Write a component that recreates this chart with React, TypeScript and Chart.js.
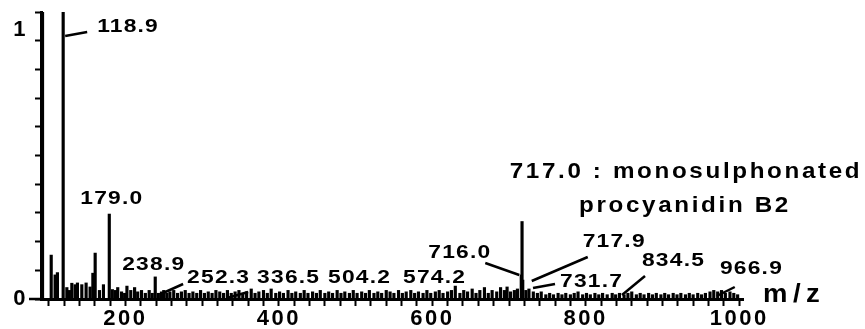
import React, { useEffect, useRef } from 'react';
import { Chart, registerables } from 'chart.js';

Chart.register(...registerables);

// ---- data ----
const mzValues = [
  92, 103.3, 108.4, 111.4, 118.9, 123.7, 127, 130.2, 134.5, 137.5, 143.2, 148.8, 154, 157.6, 160.6, 166.2,
  171.4, 179.0, 183, 187, 190, 195, 199, 202, 207, 212, 216, 221, 226, 231, 235, 238.9, 243, 247, 250,
  254, 258, 263, 268, 273, 278, 283, 288, 293, 298, 303, 308, 313, 318, 323, 328, 333, 338, 343, 348,
  353, 358, 364, 369, 374, 380, 385, 390, 396, 401, 406, 412, 417, 422, 428, 433, 438, 444, 449, 454,
  460, 465, 470, 476, 481, 486, 492, 497, 502, 508, 513, 518, 524, 529, 534, 540, 545, 550, 556, 561,
  566, 572, 577, 582, 588, 593, 598, 604, 609, 614, 620, 625, 630, 636, 641, 646, 652, 657, 662, 668,
  673, 678, 684, 689, 694, 697.5, 702, 707, 711, 716.0, 717.0, 717.9, 722, 726, 731.7, 737, 742, 748,
  753, 758, 764, 769, 774, 780, 785, 790, 796, 801, 806, 812, 817, 822, 828, 834.5, 839, 844, 850, 855,
  860, 866, 871, 876, 882, 887, 892, 898, 903, 908, 914, 919, 924, 930, 935, 940, 946, 951, 956, 962,
  966.9, 972, 977, 982, 988, 993, 998,
];
const intensities = [
  1.0, 0.153, 0.084, 0.092, 1.0, 0.04, 0.03, 0.055, 0.05, 0.056, 0.05, 0.056, 0.042, 0.09, 0.16, 0.03,
  0.05, 0.296, 0.033, 0.03, 0.04, 0.025, 0.02, 0.045, 0.03, 0.04, 0.025, 0.03, 0.02, 0.03, 0.02, 0.077, 0.02, 0.025, 0.03,
  0.02, 0.025, 0.03, 0.02, 0.025, 0.03, 0.02, 0.025, 0.02, 0.03, 0.02, 0.025, 0.02, 0.03, 0.025, 0.02, 0.03, 0.02, 0.025, 0.03,
  0.02, 0.025, 0.035, 0.02, 0.025, 0.03, 0.02, 0.035, 0.02, 0.025, 0.02, 0.03, 0.02, 0.025, 0.02, 0.03, 0.02, 0.025, 0.02, 0.03,
  0.02, 0.025, 0.02, 0.03, 0.02, 0.025, 0.02, 0.03, 0.02, 0.025, 0.02, 0.03, 0.02, 0.025, 0.02, 0.03, 0.025, 0.02, 0.03, 0.02,
  0.025, 0.03, 0.02, 0.025, 0.02, 0.03, 0.02, 0.025, 0.03, 0.02, 0.025, 0.03, 0.045, 0.02, 0.03, 0.025, 0.035, 0.02, 0.03, 0.04,
  0.02, 0.03, 0.025, 0.04, 0.03, 0.042, 0.025, 0.03, 0.035, 0.084, 0.27, 0.066, 0.03, 0.035, 0.025, 0.02, 0.025, 0.015,
  0.02, 0.015, 0.02, 0.015, 0.02, 0.015, 0.02, 0.025, 0.015, 0.02, 0.015, 0.02, 0.015, 0.02, 0.015, 0.02, 0.015, 0.02, 0.015, 0.02,
  0.025, 0.015, 0.02, 0.015, 0.02, 0.015, 0.02, 0.015, 0.02, 0.015, 0.02, 0.015, 0.02, 0.015, 0.02, 0.015, 0.02, 0.015, 0.02, 0.025,
  0.03, 0.025, 0.03, 0.02, 0.025, 0.02, 0.015,
];
const xTickLabels = [200, 400, 600, 800, 1000];
const yTickLabels = [0, 1];
const peakLabelMz = [118.9, 179.0, 238.9, 252.3, 336.5, 504.2, 574.2, 716.0, 717.9, 731.7, 834.5, 966.9];
const peakLabelText = ['118.9', '179.0', '238.9', '252.3', '336.5', '504.2', '574.2', '716.0', '717.9', '731.7', '834.5', '966.9'];
const titleLines = ['717.0 : monosulphonated', 'procyanidin B2'];
const axisTitle = 'm/z';

// ---- layout / style (pixels) ----
const FONT = '"Liberation Sans", Arial, Helvetica, sans-serif';
type Lay = { dx: number; y: number; leader: number[] | null };
const labelLayout: Lay[] = [
  { dx: 34, y: 27, leader: [2, 36, 24, 32] },
  { dx: -29, y: 199, leader: null },
  { dx: -33, y: 265, leader: null },
  { dx: 21.6, y: 278, leader: [17.6, 284, -2.4, 293] },
  { dx: 27, y: 278, leader: [18, 292, -3, 298] },
  { dx: -30.7, y: 278, leader: null },
  { dx: -9.4, y: 278, leader: null },
  { dx: -93, y: 253, leader: [-36, 263, -2, 275] },
  { dx: 60, y: 242, leader: [65, 257, 9, 281] },
  { dx: 26.7, y: 282, leader: [21.7, 284, -0.3, 288] },
  { dx: 29.8, y: 261, leader: [32.8, 276, 9.8, 295] },
  { dx: 6.2, y: 269, leader: [21, 287, 3, 296] },
];

function drawStretched(ctx: any, text: string, x: number, y: number, sx: number, align: string) {
  ctx.save();
  ctx.translate(x, y);
  ctx.scale(sx, 1);
  ctx.textAlign = align;
  ctx.fillText(text, 0, 0);
  ctx.restore();
}

const annotatePlugin = {
  id: 'annotate',
  beforeDraw(chart: any) {
    chart.ctx.letterSpacing = '2.5px';
  },
  afterDraw(chart: any) {
    const ctx = chart.ctx;
    const xs = chart.scales.x;
    const ys = chart.scales.y;
    ctx.save();
    ctx.fillStyle = '#000';
    ctx.strokeStyle = '#000';
    ctx.lineCap = 'butt';
    // long zero tick on y axis
    const y0 = ys.getPixelForValue(0);
    ctx.lineWidth = 2.5;
    ctx.beginPath();
    ctx.moveTo(29, y0);
    ctx.lineTo(xs.left, y0);
    ctx.stroke();

    ctx.font = `bold 19px ${FONT}`;
    ctx.letterSpacing = '1px';
    ctx.textBaseline = 'middle';
    peakLabelMz.forEach((mz, i) => {
      const px = xs.getPixelForValue(mz);
      const L = labelLayout[i];
      drawStretched(ctx, peakLabelText[i], px + L.dx, L.y, 1.2, 'left');
      if (L.leader) {
        ctx.lineWidth = 2.5;
        ctx.beginPath();
        ctx.moveTo(px + L.leader[0], L.leader[1]);
        ctx.lineTo(px + L.leader[2], L.leader[3]);
        ctx.stroke();
      }
    });

    // axis title
    ctx.font = `bold 25px ${FONT}`;
    ctx.letterSpacing = '5px';
    drawStretched(ctx, axisTitle, xs.right + 20, y0 - 4, 1.1, 'left');

    // bold annotation title
    ctx.font = `bold 22px ${FONT}`;
    ctx.letterSpacing = '2.4px';
    drawStretched(ctx, titleLines[0], 686, 172, 1.1, 'center');
    drawStretched(ctx, titleLines[1], 685, 206, 1.1, 'center');
    ctx.restore();
    ctx.letterSpacing = '0px';
  },
};

export default function App() {
  const ref = useRef<HTMLCanvasElement>(null);
  useEffect(() => {
    const chart = new Chart(ref.current as HTMLCanvasElement, {
      type: 'bar',
      data: {
        datasets: [
          {
            data: mzValues.map((x, i) => ({ x, y: intensities[i] })),
            backgroundColor: '#000',
            borderWidth: 0,
            barThickness: 2.5,
          } as any,
        ],
      },
      options: {
        animation: false,
        responsive: false,
        devicePixelRatio: 1,
        events: [],
        layout: { padding: { left: 0, top: 12, right: 122, bottom: 0 } },
        plugins: { legend: { display: false }, tooltip: { enabled: false }, title: { display: false } },
        scales: {
          x: {
            type: 'linear',
            min: 90,
            max: 1005,
            offset: false,
            border: { display: true, color: '#000', width: 3 },
            grid: {
              display: true,
              drawOnChartArea: false,
              drawTicks: true,
              tickLength: 7,
              tickWidth: 2,
              tickColor: '#000',
              offset: false,
            },
            afterBuildTicks: (s: any) => {
              const t = [];
              for (let v = 100; v <= 1000; v += 20) t.push({ value: v });
              s.ticks = t;
            },
            afterFit: (s: any) => {
              s.height = 30;
              s.paddingLeft = 0;
              s.paddingRight = 0;
            },
            ticks: {
              autoSkip: false,
              maxRotation: 0,
              minRotation: 0,
              padding: 2,
              color: '#000',
              font: { family: FONT, size: 22, weight: 'bold', lineHeight: 1.0 },
              callback: (v: any) => (xTickLabels.includes(Number(v)) ? String(v) : ''),
            },
          },
          y: {
            type: 'linear',
            min: 0,
            max: 1,
            border: { display: true, color: '#000', width: 3 },
            grid: {
              display: true,
              drawOnChartArea: false,
              drawTicks: true,
              tickLength: 6,
              tickWidth: 2,
              tickColor: '#000',
            },
            afterBuildTicks: (s: any) => {
              const t = [];
              for (let i = 0; i <= 10; i++) t.push({ value: i / 10 });
              s.ticks = t;
            },
            afterFit: (s: any) => {
              s.width = 41;
              s.paddingTop = 0;
              s.paddingBottom = 0;
            },
            ticks: {
              autoSkip: false,
              padding: 7,
              color: '#000',
              font: { family: FONT, size: 22, weight: 'bold', lineHeight: 1.6 },
              callback: (v: any) => {
                const n = Number(v);
                if (n === yTickLabels[0]) return String(yTickLabels[0]);
                if (n === yTickLabels[1]) return ['', String(yTickLabels[1])];
                return '';
              },
            },
          },
        },
      } as any,
      plugins: [annotatePlugin],
    });
    return () => chart.destroy();
  }, []);
  return (
    <div style={{ position: 'fixed', left: 0, top: 0, width: 865, height: 329, background: '#fff' }}>
      <canvas ref={ref} width={865} height={329} style={{ display: 'block', width: 865, height: 329 }} />
    </div>
  );
}
